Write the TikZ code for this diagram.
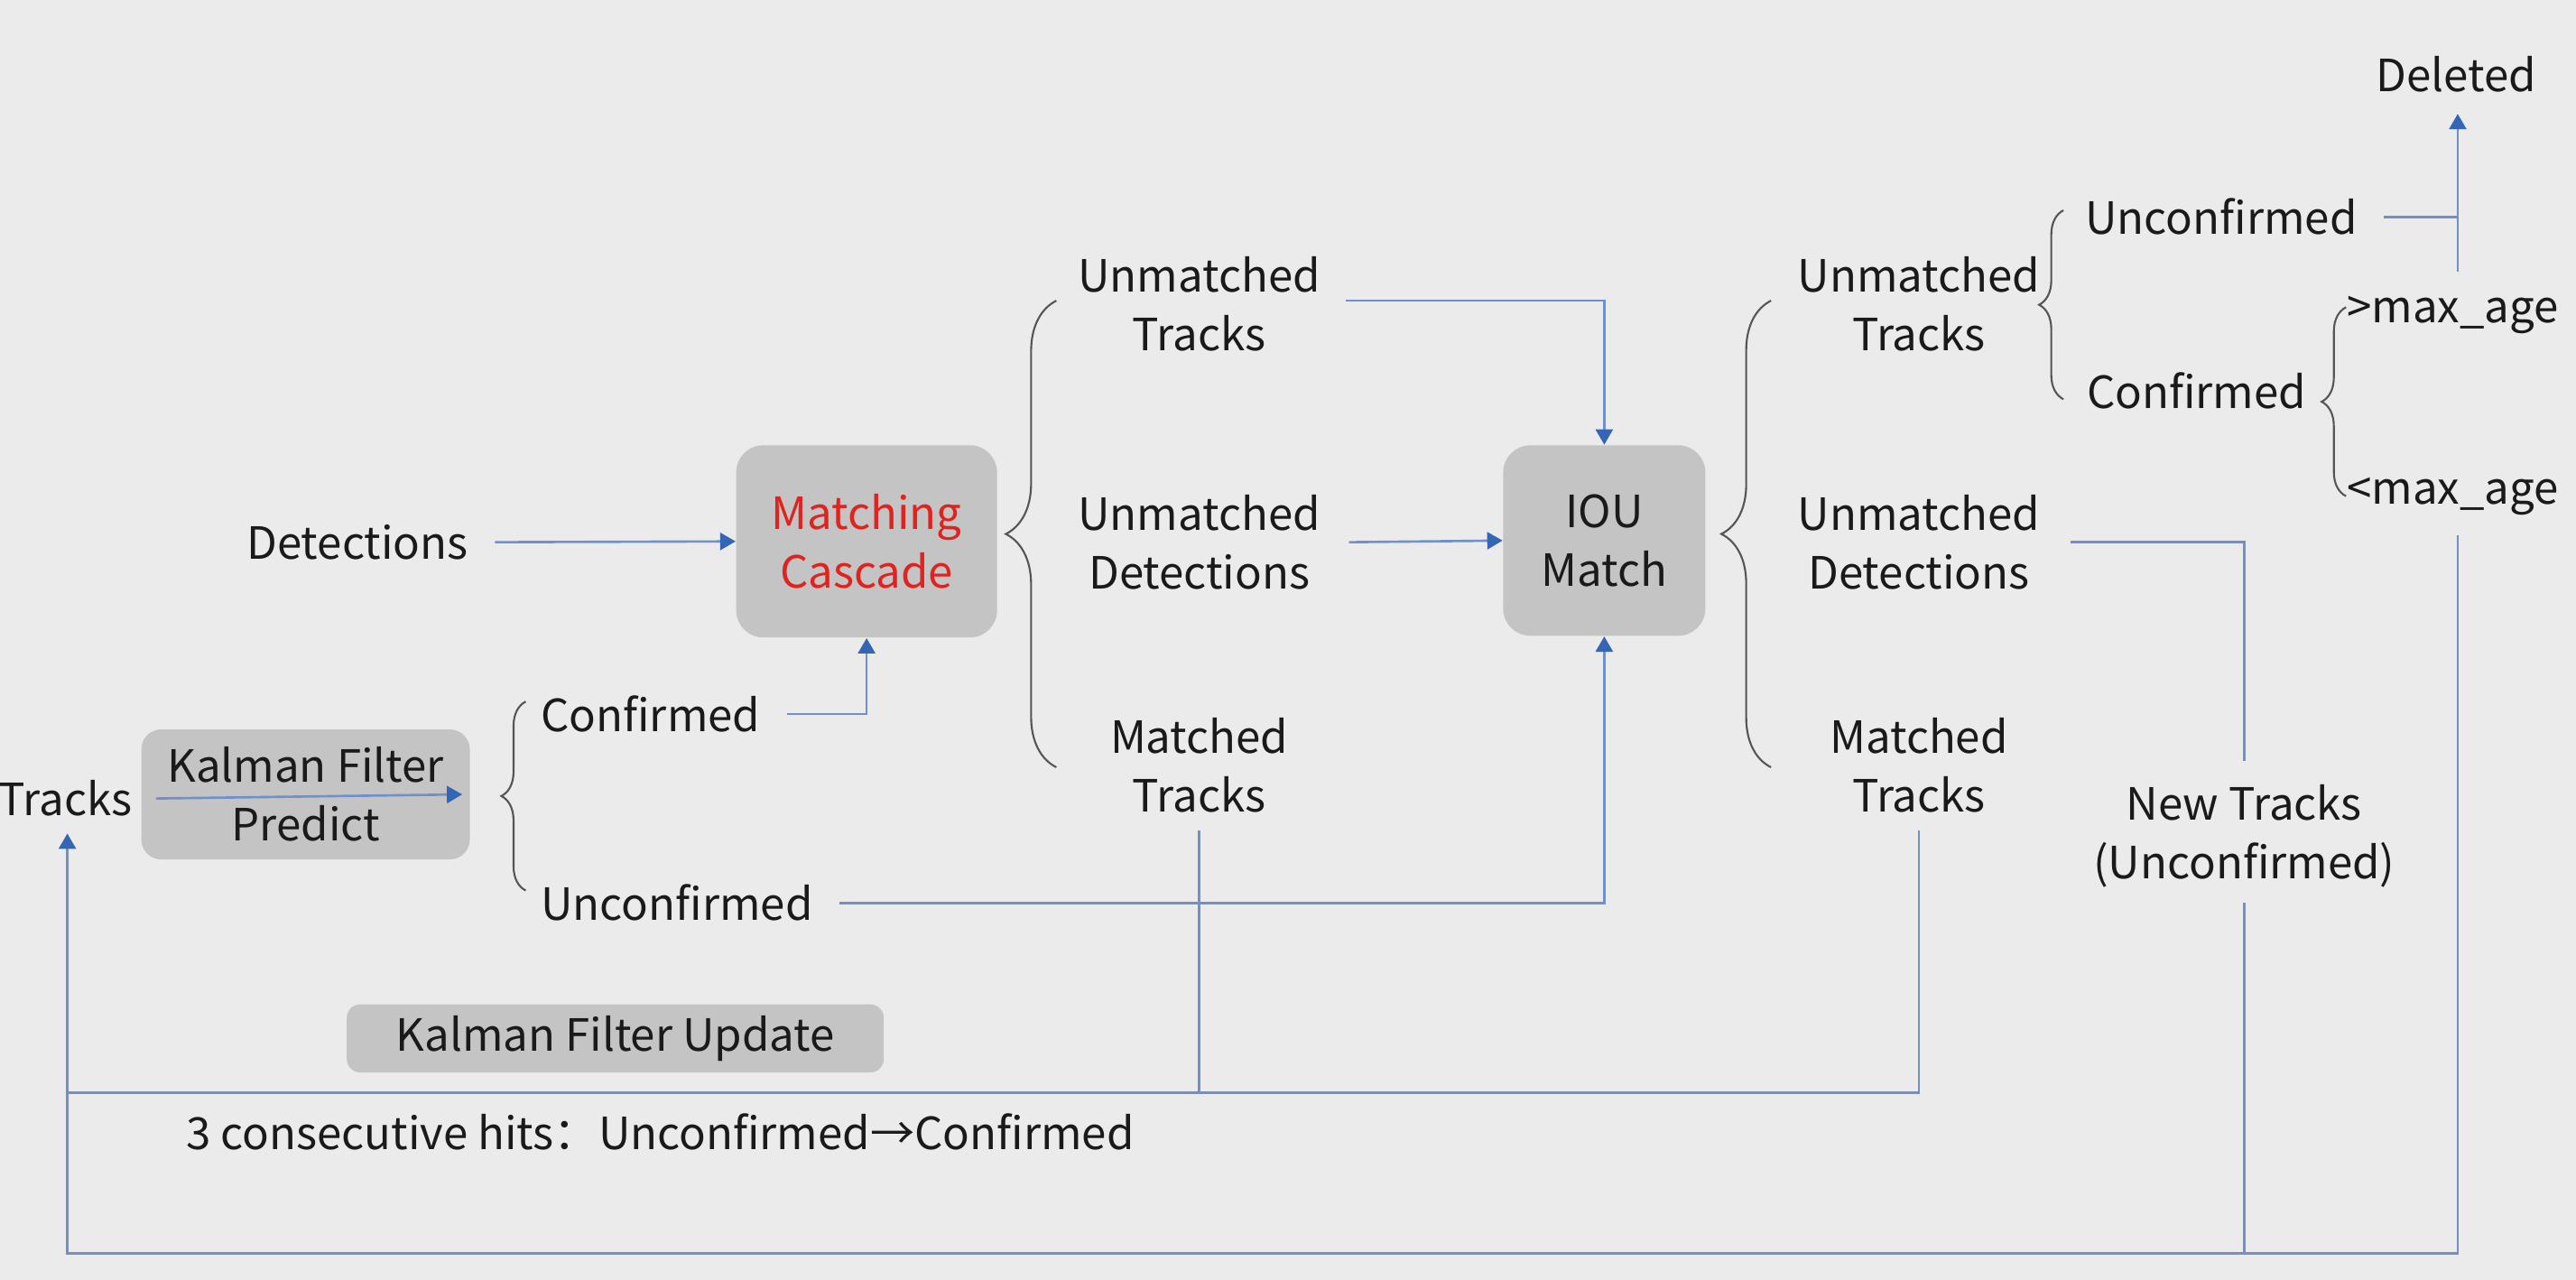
\documentclass[tikz,border=0pt]{standalone}
\usepackage{fontspec}
\setmainfont{Noto Sans CJK SC}
\usetikzlibrary{arrows.meta,calc,decorations.pathreplacing}
\definecolor{bg}{HTML}{EBEBEB}
\definecolor{boxgray}{HTML}{C4C4C4}
\definecolor{lineblue}{HTML}{6F90CC}
\definecolor{headblue}{HTML}{3566B6}
\definecolor{txt}{HTML}{1A1A1A}
\definecolor{redtxt}{HTML}{E0231F}
\definecolor{bracegray}{HTML}{555555}
\begin{document}
\begin{tikzpicture}[x=0.0182cm,y=-0.0182cm,
  lbl/.style={font=\fontsize{14}{18.5}\selectfont, text=txt, align=center, inner sep=0pt},
  box/.style={lbl, fill=boxgray, rounded corners=0.3cm},
  conn/.style={draw=lineblue, line width=0.75pt},
  arr/.style={conn, -{Triangle[width=0.19cm,length=0.17cm,color=headblue]}},
  brc/.style={draw=bracegray, line width=0.6pt, decorate},
]
\fill[bg] (0,0) rectangle (1568,779);
\useasboundingbox (0,0) rectangle (1568,779);

% nodes
\node[lbl] (deleted) at (1495,45) {Deleted};
\node[lbl] (unc3) at (1352,132) {Unconfirmed};
\node[lbl] (umt2) at (1168,185) {Unmatched\\Tracks};
\node[lbl] (conf3) at (1337,238) {Confirmed};
\node[lbl] (gtmax) at (1493,192) {>max\_age};
\node[lbl] (ltmax) at (1493,302) {<max\_age};
\node[lbl] (umd2) at (1168,330) {Unmatched\\Detections};
\node[lbl] (mt2) at (1168,466) {Matched\\Tracks};
\node[lbl] (newt) at (1366,509) {New Tracks\\(Unconfirmed)};
\node[lbl] (tracks) at (40,486) {Tracks};
\node[box, minimum width=3.64cm, minimum height=1.44cm, rounded corners=0.22cm] (kfp) at (186,483.5) {Kalman Filter\\Predict};
\node[lbl] (conf1) at (396,434.5) {Confirmed};
\node[lbl] (unc1) at (412,549.5) {Unconfirmed};
\node[lbl] (det) at (217.5,330) {Detections};
\node[box, minimum width=2.89cm, minimum height=2.13cm, text=redtxt] (mc) at (527.5,329.5) {Matching\\Cascade};
\node[lbl] (umt1) at (730,185) {Unmatched\\Tracks};
\node[lbl] (umd1) at (730,330) {Unmatched\\Detections};
\node[lbl] (mt1) at (730,466) {Matched\\Tracks};
\node[box, minimum width=2.24cm, minimum height=2.11cm] (iou) at (976.5,329) {IOU\\Match};
\node[box, minimum width=5.95cm, minimum height=0.755cm, rounded corners=0.15cm] (kfu) at (374.5,632) {Kalman Filter Update};
\node[lbl, anchor=west] (note) at (113,689) {3 consecutive hits：Unconfirmed→Confirmed};

% coordinates
\coordinate (ret) at (41,665);
\coordinate (bl) at (41,763);
\coordinate (br) at (1496,763);

% connectors
\draw[arr] ($(det.east)+(16,0)$) -- (mc.west);
\draw[arr] ($(tracks.east)+(14,0)$) -- ($(kfp.east)+(-5,0)$);
\draw[arr] ($(conf1.east)+(16,0)$) -| (mc.south);
\draw[arr] ($(unc1.east)+(16,0)$) -| (iou.south);
\draw[arr] ($(umt1.east)+(15,-2)$) -| (iou.north);
\draw[arr] ($(umd1.east)+(17,0)$) -- (iou.west);
\draw[conn] ($(mt1.south)+(0,10)$) -- (mt1.south |- ret);
\draw[conn] ($(mt2.south)+(0,10)$) -- (mt2.south |- ret) -- (ret);
\draw[arr] ($(ltmax.south -| br)+(0,12)$) -- (br) -- (bl) -- ($(bl |- tracks.south)+(0,10)$);
\draw[conn] ($(umd2.east)+(18,0)$) -| ($(newt.north)+(0,-14)$);
\draw[conn] ($(newt.south)+(0,9)$) -- (newt.south |- br);
\draw[conn] ($(unc3.east)+(16,0)$) -- (unc3.east -| br);
\draw[arr] ($(gtmax.north -| br)+(0,-15)$) -- ($(deleted.south -| br)+(0,13)$);

% braces
\draw[brc, decoration={brace,amplitude=0.27cm}] (320,542) -- (320,427);
\draw[brc, decoration={brace,amplitude=0.56cm}] (643,467) -- (643,183);
\draw[brc, decoration={brace,amplitude=0.55cm}] (1078,467) -- (1078,183);
\draw[brc, decoration={brace,amplitude=0.27cm}] (1256,243) -- (1256,128);
\draw[brc, decoration={brace,amplitude=0.27cm}] (1428,302) -- (1428,187);
\end{tikzpicture}
\end{document}
